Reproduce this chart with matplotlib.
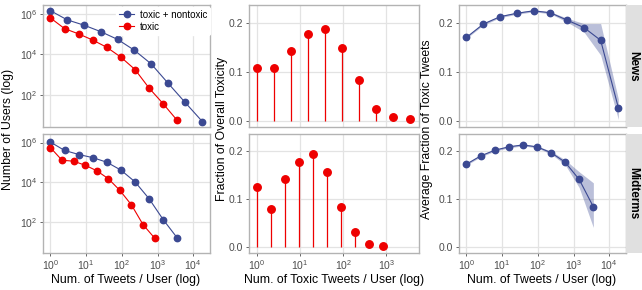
import matplotlib
matplotlib.use("Agg")
import matplotlib.pyplot as plt
from matplotlib.ticker import LogFormatterSciNotation, FixedLocator, FormatStrFormatter, NullLocator

plt.rcParams["font.family"] = ["Liberation Sans", "DejaVu Sans"]
plt.rcParams["mathtext.fontset"] = "custom"
plt.rcParams["mathtext.rm"] = "Liberation Sans"
plt.rcParams["mathtext.it"] = "Liberation Sans"

# Дані: кількість користувачів (News)
news_all_x = [1, 2.95, 8.7, 25.7, 76, 224, 661, 1950, 5750, 18000]
news_all_users = [1.41e6, 5.0e5, 2.75e5, 1.32e5, 5.5e4, 1.62e4, 3.47e3, 398, 47, 5.1]
news_tox_x = [1, 2.48, 6.2, 15.3, 38, 94, 234, 580, 1440, 3500]
news_tox_users = [6.2e5, 1.86e5, 1.02e5, 5.1e4, 2.24e4, 7.4e3, 1.82e3, 224, 38, 6.0]

# Дані: кількість користувачів (Midterms)
mid_all_x = [1, 2.48, 6.2, 15.3, 38, 94, 234, 580, 1440, 3590]
mid_all_users = [1.05e6, 4.0e5, 2.5e5, 1.74e5, 1.02e5, 4.1e4, 1.05e4, 1.48e3, 132, 15.5]
mid_tox_x = [1, 2.1, 4.45, 9.4, 19.8, 41.8, 88, 186, 392, 827]
mid_tox_users = [5.5e5, 1.29e5, 1.15e5, 7.2e4, 3.8e4, 1.51e4, 3.9e3, 724, 74, 15.5]

# Частка загальної токсичності
news_frac = [0.108, 0.108, 0.143, 0.177, 0.186, 0.148, 0.083, 0.025, 0.009, 0.004]
mid_frac = [0.126, 0.080, 0.142, 0.178, 0.194, 0.156, 0.084, 0.031, 0.006, 0.003]

# Середня частка токсичних твітів з довірчим інтервалом
news_avg = [0.170, 0.197, 0.212, 0.219, 0.224, 0.220, 0.205, 0.190, 0.164, 0.027]
news_lo = [0.168, 0.195, 0.210, 0.217, 0.222, 0.218, 0.201, 0.181, 0.134, 0.003]
news_hi = [0.172, 0.199, 0.214, 0.221, 0.226, 0.222, 0.209, 0.198, 0.198, 0.045]
mid_avg = [0.173, 0.190, 0.202, 0.209, 0.213, 0.209, 0.197, 0.177, 0.141, 0.084]
mid_lo = [0.171, 0.188, 0.200, 0.207, 0.211, 0.207, 0.194, 0.172, 0.124, 0.041]
mid_hi = [0.175, 0.192, 0.204, 0.211, 0.215, 0.211, 0.200, 0.182, 0.157, 0.134]

facets = ["News", "Midterms"]

blue = "#3B4992"
red = "#EE0000"
grid_c = "#E3E3E3"
border_c = "#B3B3B3"
tick_c = "#4D4D4D"

W, H = 642, 290
fig = plt.figure(figsize=(W / 100, H / 100), dpi=100)


def add_ax(x0, x1, y0, y1):
    return fig.add_axes([x0 / W, 1 - y1 / H, (x1 - x0) / W, (y1 - y0) / H])


def style(ax, bottom_row):
    for s in ax.spines.values():
        s.set_color(border_c)
        s.set_linewidth(1.0)
    ax.grid(True, color=grid_c, linewidth=0.9)
    ax.set_axisbelow(True)
    ax.tick_params(colors=tick_c, labelsize=7.5, length=2.5, width=0.6,
                   pad=1.5)
    ax.tick_params(axis="x", labelbottom=bottom_row, bottom=bottom_row)
    ax.xaxis.set_minor_locator(NullLocator())
    ax.yaxis.set_minor_locator(NullLocator())


rows = [(5, 127), (134, 253)]
cols = [(43, 210), (249, 419), (459, 626)]

users = [
    (news_all_x, news_all_users, news_tox_x, news_tox_users),
    (mid_all_x, mid_all_users, mid_tox_x, mid_tox_users),
]
fracs = [(news_tox_x, news_frac), (mid_tox_x, mid_frac)]
avgs = [
    (news_all_x, news_avg, news_lo, news_hi),
    (mid_all_x, mid_avg, mid_lo, mid_hi),
]

for r, (y0, y1) in enumerate(rows):
    bottom_row = r == 1

    # Ліва колонка: кількість користувачів
    ax = add_ax(cols[0][0], cols[0][1], y0, y1)
    ax_x, ax_y, tx_x, tx_y = users[r]
    ax.plot(ax_x, ax_y, color=blue, lw=0.8, marker="o", ms=4.6,
            label="toxic + nontoxic")
    ax.plot(tx_x, tx_y, color=red, lw=0.8, marker="o", ms=4.6, label="toxic")
    ax.set_xscale("log")
    ax.set_yscale("log")
    ax.set_xlim(10 ** -0.21, 10 ** 4.47)
    ax.set_ylim(10 ** 0.44, 10 ** 6.43)
    ax.xaxis.set_major_locator(FixedLocator([1, 10, 100, 1000, 10000]))
    ax.xaxis.set_major_formatter(LogFormatterSciNotation())
    ax.yaxis.set_major_locator(FixedLocator([1e2, 1e4, 1e6]))
    ax.yaxis.set_major_formatter(LogFormatterSciNotation())
    style(ax, bottom_row)
    if r == 0:
        leg = ax.legend(loc="upper right", bbox_to_anchor=(1.0, 0.985),
                        fontsize=7.0, frameon=True,
                        handlelength=1.5, handletextpad=0.6,
                        borderaxespad=0.0, labelspacing=0.2,
                        borderpad=0.3)
        leg.get_frame().set_edgecolor("white")
        leg.get_frame().set_facecolor("white")
        leg.get_frame().set_alpha(1)

    # Середня колонка: частка токсичності
    ax = add_ax(cols[1][0], cols[1][1], y0, y1)
    fx, fy = fracs[r]
    ax.vlines(fx, 0, fy, color=red, lw=0.9)
    ax.plot(fx, fy, "o", color=red, ms=5.4, lw=0)
    ax.set_xscale("log")
    ax.set_xlim(10 ** -0.185, 10 ** 3.76)
    ax.set_ylim(-0.0123, 0.2358)
    ax.xaxis.set_major_locator(FixedLocator([1, 10, 100, 1000]))
    ax.xaxis.set_major_formatter(LogFormatterSciNotation())
    ax.yaxis.set_major_locator(FixedLocator([0.0, 0.1, 0.2]))
    ax.yaxis.set_major_formatter(FormatStrFormatter("%.1f"))
    style(ax, bottom_row)

    # Права колонка: середня частка токсичних твітів
    ax = add_ax(cols[2][0], cols[2][1], y0, y1)
    ax_x, avg, lo, hi = avgs[r]
    ax.fill_between(ax_x, lo, hi, color=blue, alpha=0.35, lw=0)
    ax.plot(ax_x, avg, color=blue, lw=0.8, marker="o", ms=4.6)
    ax.set_xscale("log")
    ax.set_xlim(10 ** -0.21, 10 ** 4.47)
    ax.set_ylim(-0.0123, 0.2358)
    ax.xaxis.set_major_locator(FixedLocator([1, 10, 100, 1000, 10000]))
    ax.xaxis.set_major_formatter(LogFormatterSciNotation())
    ax.yaxis.set_major_locator(FixedLocator([0.0, 0.1, 0.2]))
    ax.yaxis.set_major_formatter(FormatStrFormatter("%.1f"))
    style(ax, bottom_row)

    # Смуга з назвою фасету
    sax = add_ax(626, 642, y0, y1)
    sax.set_facecolor("#E0E0E0")
    sax.set_xticks([])
    sax.set_yticks([])
    for s in sax.spines.values():
        s.set_visible(False)
    sax.text(0.45, 0.5, facets[r], rotation=-90, ha="center", va="center",
             fontsize=8.5, fontweight="bold", transform=sax.transAxes)

# Підписи осей
fs_title = 8.8
fig.text(8 / W, 1 - 129 / H, "Number of Users (log)", rotation=90,
         ha="center", va="center", fontsize=fs_title)
fig.text(222 / W, 1 - 129 / H, "Fraction of Overall Toxicity", rotation=90,
         ha="center", va="center", fontsize=fs_title)
fig.text(427 / W, 1 - 129 / H, "Average Fraction of Toxic Tweets",
         rotation=90, ha="center", va="center", fontsize=fs_title)
fig.text(126 / W, 1 - 280 / H, "Num. of Tweets / User (log)",
         ha="center", va="center", fontsize=fs_title)
fig.text(334 / W, 1 - 280 / H, "Num. of Toxic Tweets / User (log)",
         ha="center", va="center", fontsize=fs_title)
fig.text(542 / W, 1 - 280 / H, "Num. of Tweets / User (log)",
         ha="center", va="center", fontsize=fs_title)

fig.savefig("out.png", dpi=100)
